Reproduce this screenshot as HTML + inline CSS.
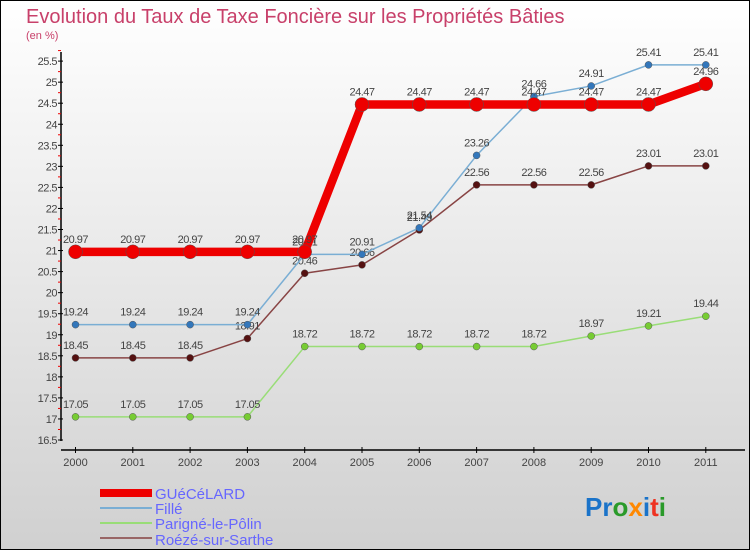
<!DOCTYPE html>
<html><head><meta charset="utf-8"><style>
html,body{margin:0;padding:0}
body{width:750px;height:550px;overflow:hidden;font-family:"Liberation Sans",sans-serif}
</style></head><body>
<svg id="chart" width="750" height="550" xmlns="http://www.w3.org/2000/svg" font-family="Liberation Sans, sans-serif">
<defs><linearGradient id="bg" x1="0" y1="0" x2="0" y2="1"><stop offset="0" stop-color="#ffffff"/><stop offset="1" stop-color="#d0d0d0"/></linearGradient></defs>
<rect x="0.5" y="0.5" width="749" height="549" fill="url(#bg)" stroke="#000"/>
<text x="26" y="23" font-size="20" fill="#c8406a">Evolution du Taux de Taxe Foncière sur les Propriétés Bâties</text>
<text x="26" y="39" font-size="11" fill="#c8406a">(en %)</text>
<g id="axes"></g><g id="series"></g>
<g>
<rect x="100" y="489" width="52" height="8" fill="#ee0000"/>
<text x="155" y="499" font-size="15" fill="#6666ff">GUéCéLARD</text>
<line x1="100" y1="508" x2="152" y2="508" stroke="#7aaed4" stroke-width="2"/>
<text x="155" y="514" font-size="15" fill="#6666ff">Fillé</text>
<line x1="100" y1="523" x2="152" y2="523" stroke="#99dd77" stroke-width="2"/>
<text x="155" y="529" font-size="15" fill="#6666ff">Parigné-le-Pôlin</text>
<line x1="100" y1="538" x2="152" y2="538" stroke="#996666" stroke-width="2"/>
<text x="155" y="545" font-size="15" fill="#6666ff">Roézé-sur-Sarthe</text>
</g>
<g font-size="26" font-weight="bold">
<text x="585" y="516"><tspan fill="#1a73c9">Pr</tspan><tspan fill="#2a9a2a">o</tspan><tspan fill="#ff8800">x</tspan><tspan fill="#1a73c9">i</tspan><tspan fill="#ee3322">t</tspan><tspan fill="#2a9a2a">i</tspan></text>
</g>
</svg>
<script>
const years=[2000,2001,2002,2003,2004,2005,2006,2007,2008,2009,2010,2011];
const guecelard=[20.97,20.97,20.97,20.97,20.97,24.47,24.47,24.47,24.47,24.47,24.47,24.96];
const fille=[19.24,19.24,19.24,19.24,20.91,20.91,21.54,23.26,24.66,24.91,25.41,25.41];
const parigne=[17.05,17.05,17.05,17.05,18.72,18.72,18.72,18.72,18.72,18.97,19.21,19.44];
const roeze=[18.45,18.45,18.45,18.91,20.46,20.66,21.49,22.56,22.56,22.56,23.01,23.01];
const yTicks=[16.5,17,17.5,18,18.5,19,19.5,20,20.5,21,21.5,22,22.5,23,23.5,24,24.5,25,25.5];
const NS="http://www.w3.org/2000/svg";
const x=i=>75.5+i*57.3;
const y=v=>440-(v-16.5)*42.1;
function mk(tag,attrs,parent){const e=document.createElementNS(NS,tag);for(const k in attrs)e.setAttribute(k,attrs[k]);parent.appendChild(e);return e;}
const ax=document.getElementById('axes');
const yAxis=mk('line',{x1:61,y1:52,x2:61,y2:441,stroke:'#000','stroke-width':1.5},ax);


const xAxis=mk('line',{x1:61,y1:450,x2:745,y2:450,stroke:'#000','stroke-width':1.5},ax);


yTicks.forEach(t=>{
  mk('line',{x1:58,y1:y(t),x2:63,y2:y(t),stroke:'#000'},ax);
  mk('line',{x1:58,y1:y(t+0.25),x2:61,y2:y(t+0.25),stroke:'#e00'},ax);
  const tx=mk('text',{x:57,y:y(t)+4,'font-size':11,'text-anchor':'end',fill:'#444','letter-spacing':'-0.5'},ax);
  tx.textContent=t;
  
  
});
years.forEach((yr,i)=>{
  mk('line',{x1:x(i),y1:447,x2:x(i),y2:453,stroke:'#000'},ax);
  const tx=mk('text',{x:x(i),y:466,'font-size':11,'text-anchor':'middle',fill:'#444'},ax);
  tx.textContent=yr;
  
  
});
const sg=document.getElementById('series');
function series(name,vals,color,w,r,dot){
  const g=mk('g',{},sg);
  
  
  mk('polyline',{points:vals.map((v,i)=>x(i)+','+y(v)).join(' '),fill:'none',stroke:color,'stroke-width':w,'stroke-linejoin':'round'},g);
  vals.forEach((v,i)=>{
    const c=mk('circle',{cx:x(i),cy:y(v),r:r,fill:dot,stroke:'#555','stroke-width':0.5},g);
    
    
    const t=mk('text',{x:x(i),y:y(v)-9,'font-size':11,'text-anchor':'middle',fill:'#444','letter-spacing':'-0.5'},g);
    t.textContent=v.toFixed(2).replace(/0$/,'').replace(/\.$/,'');
    
    
  });
}
series('parigne',parigne,'#99dd77',1.5,3.5,'#77cc33');
series('roeze',roeze,'#884444',1.5,3.5,'#551111');
series('fille',fille,'#7aaed4',1.5,3.5,'#3377bb');
series('guecelard',guecelard,'#ee0000',8.5,7,'#ee0000');
</script>
</body></html>
